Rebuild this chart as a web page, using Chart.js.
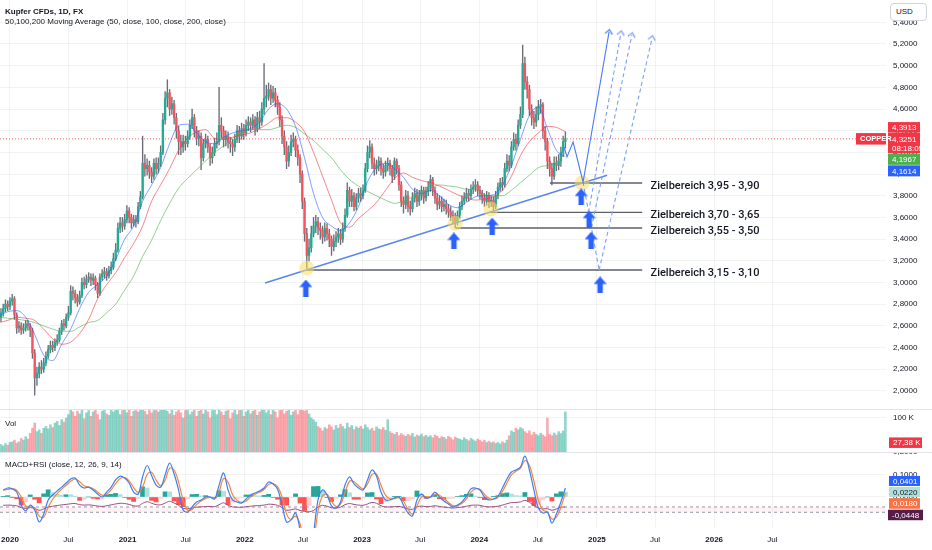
<!DOCTYPE html>
<html><head><meta charset="utf-8">
<script src="https://cdn.jsdelivr.net/npm/chart.js@4.4.1/dist/chart.umd.min.js"></script>
<style>
html,body{margin:0;padding:0;background:#fff;width:932px;height:550px;overflow:hidden;font-family:'Liberation Sans',Arial,sans-serif;}
#wrap{position:relative;width:932px;height:550px;}
canvas{position:absolute;left:0;}
.t{position:absolute;color:#131722;font-size:8px;white-space:nowrap;line-height:10px;}
.sep{position:absolute;left:0;width:932px;height:1px;background:#e0e3eb;}
#usd{position:absolute;left:890px;top:3px;width:37px;height:18px;border:1px solid #d1d4dc;border-radius:4px;background:#fff;font-size:8px;line-height:16px;color:#131722;padding-left:5px;box-sizing:border-box;}
</style></head><body>
<div id="wrap">
<canvas id="cPrice" width="932" height="410" style="top:0"></canvas>
<canvas id="cVol" width="932" height="42" style="top:410px"></canvas>
<canvas id="cMacd" width="932" height="98" style="top:452px"></canvas>
<div class="sep" style="top:409px"></div>
<div class="sep" style="top:452px"></div>
<div class="t" style="left:5px;top:7px;font-weight:bold">Kupfer CFDs, 1D, FX</div>
<div class="t" style="left:5px;top:16.5px">50,100,200 Moving Average (50, close, 100, close, 200, close)</div>
<div class="t" style="left:5px;top:418.5px">Vol</div>
<div class="t" style="left:5px;top:459.5px">MACD+RSI (close, 12, 26, 9, 14)</div>
<div id="usd">USD</div>
</div>
<script>
// ---------- DATA ----------
// days counted from 2020-01-01
const timeTickDays   = [0,182,366,547,731,912,1096,1277,1461,1643,1827,2008,2192,2373];
const timeTickLabels = ['2020','Jul','2021','Jul','2022','Jul','2023','Jul','2024','Jul','2025','Jul','2026','Jul'];
const priceTicks = [2.0,2.2,2.4,2.6,2.8,3.0,3.2,3.4,3.6,3.8,4.0,4.2,4.4,4.6,4.8,5.0,5.2,5.4];
const volTicks = [100];
const macdTicks = [0.2,0.1,0];

// weekly candles, first week starts 2019-12-04
const firstCandleDay = -28;
const firstOpen = 2.68;
const closes = [
2.72,2.76,2.80,2.78,2.83,2.85,2.70,2.58,2.60,2.56,
2.58,2.62,2.60,2.56,2.35,2.12,2.16,2.22,2.20,2.26,
2.32,2.38,2.42,2.40,2.45,2.47,2.55,2.62,2.60,2.68,
2.72,2.92,2.90,2.86,2.82,2.88,3.00,2.98,3.03,3.05,
3.02,3.04,2.98,2.90,3.05,3.08,3.10,3.06,3.11,3.14,
3.22,3.30,3.50,3.55,3.52,3.58,3.66,3.60,3.55,3.58,
3.56,3.70,3.79,4.10,4.05,4.08,4.02,3.98,4.10,4.05,
4.10,4.20,4.50,4.70,4.75,4.60,4.65,4.52,4.40,4.30,
4.25,4.30,4.28,4.35,4.45,4.52,4.40,4.33,4.35,4.15,
4.28,4.32,4.25,4.15,4.20,4.28,4.30,4.45,4.40,4.32,
4.35,4.30,4.28,4.25,4.32,4.40,4.35,4.42,4.38,4.45,
4.48,4.45,4.50,4.42,4.52,4.48,4.60,4.70,4.72,4.78,
4.70,4.75,4.68,4.62,4.50,4.35,4.25,4.12,4.20,4.30,
4.32,4.22,4.15,4.00,3.75,3.45,3.25,3.32,3.45,3.52,
3.56,3.50,3.48,3.42,3.50,3.45,3.40,3.33,3.38,3.42,
3.45,3.40,3.50,3.62,3.85,3.75,3.80,3.70,3.78,3.82,
3.80,3.85,4.05,4.20,4.25,4.10,4.05,4.08,4.12,4.05,
4.02,4.08,4.10,4.05,3.98,4.12,4.05,3.90,3.75,3.72,
3.80,3.70,3.68,3.78,3.82,3.75,3.80,3.85,3.78,3.84,
3.88,3.95,3.85,3.78,3.72,3.75,3.70,3.72,3.68,3.65,
3.62,3.60,3.56,3.62,3.70,3.75,3.78,3.82,3.80,3.86,
3.88,3.90,3.85,3.82,3.78,3.75,3.80,3.74,3.76,3.70,
3.80,3.88,3.92,3.90,4.05,4.12,4.08,4.25,4.32,4.28,
4.45,4.55,5.02,4.85,4.78,4.60,4.52,4.48,4.55,4.62,
4.64,4.40,4.30,4.12,4.05,3.98,4.10,4.08,4.12,4.20,
4.30,4.3251];
const highs = [
2.76,2.80,2.84,2.83,2.86,2.89,2.87,2.72,2.64,2.63,
2.62,2.65,2.65,2.62,2.58,2.38,2.22,2.26,2.28,2.30,
2.36,2.42,2.46,2.46,2.48,2.52,2.58,2.65,2.66,2.71,
2.78,2.97,2.96,2.93,2.89,2.92,3.04,3.05,3.07,3.09,
3.08,3.08,3.06,3.00,3.08,3.12,3.14,3.13,3.15,3.19,
3.27,3.36,3.55,3.60,3.60,3.63,3.71,3.69,3.63,3.62,
3.62,3.74,3.84,4.35,4.18,4.14,4.12,4.06,4.14,4.15,
4.15,4.26,4.56,4.76,4.87,4.78,4.71,4.68,4.56,4.44,
4.36,4.36,4.35,4.40,4.50,4.60,4.55,4.44,4.40,4.38,
4.32,4.37,4.35,4.28,4.25,4.33,4.38,4.80,4.52,4.44,
4.40,4.39,4.34,4.32,4.37,4.45,4.44,4.47,4.46,4.50,
4.53,4.52,4.55,4.53,4.57,4.58,4.66,5.02,4.82,4.84,
4.82,4.81,4.79,4.72,4.66,4.54,4.40,4.30,4.26,4.36,
4.38,4.35,4.27,4.18,4.03,3.78,3.50,3.40,3.52,3.60,
3.62,3.60,3.55,3.52,3.55,3.54,3.49,3.43,3.44,3.47,
3.50,3.49,3.55,3.68,3.92,3.88,3.86,3.83,3.82,3.87,
3.87,3.90,4.10,4.26,4.31,4.28,4.15,4.13,4.16,4.15,
4.09,4.12,4.15,4.13,4.08,4.15,4.14,4.08,3.93,3.79,
3.85,3.84,3.75,3.83,3.87,3.86,3.85,3.89,3.88,3.88,
3.93,3.99,3.97,3.88,3.82,3.80,3.79,3.77,3.76,3.72,
3.70,3.66,3.64,3.66,3.74,3.80,3.83,3.87,3.86,3.90,
3.93,3.95,3.93,3.89,3.85,3.82,3.84,3.83,3.80,3.79,
3.84,3.92,3.96,3.97,4.10,4.18,4.17,4.30,4.38,4.37,
4.50,4.62,5.19,5.08,4.90,4.82,4.64,4.58,4.62,4.68,
4.69,4.66,4.44,4.33,4.16,4.10,4.16,4.16,4.18,4.25,
4.35,4.39];
const lows = [
2.64,2.69,2.73,2.74,2.75,2.79,2.66,2.53,2.54,2.52,
2.53,2.55,2.56,2.50,2.30,1.96,2.05,2.12,2.16,2.17,
2.23,2.30,2.35,2.36,2.37,2.42,2.45,2.52,2.56,2.58,
2.65,2.70,2.84,2.81,2.78,2.80,2.86,2.94,2.95,3.00,
2.97,2.98,2.93,2.86,2.88,3.02,3.04,3.02,3.04,3.08,
3.12,3.20,3.28,3.46,3.47,3.49,3.55,3.55,3.50,3.52,
3.51,3.54,3.68,3.77,3.98,3.99,3.96,3.92,3.95,4.00,
4.01,4.07,4.18,4.46,4.62,4.54,4.55,4.46,4.33,4.18,
4.18,4.20,4.22,4.25,4.32,4.42,4.34,4.27,4.26,4.04,
4.12,4.24,4.20,4.08,4.10,4.17,4.24,4.27,4.33,4.25,
4.26,4.24,4.20,4.17,4.21,4.29,4.29,4.32,4.32,4.35,
4.40,4.39,4.41,4.36,4.39,4.42,4.45,4.55,4.62,4.68,
4.64,4.66,4.62,4.55,4.44,4.28,4.18,4.05,4.07,4.17,
4.25,4.16,4.08,3.92,3.68,3.38,3.13,3.20,3.28,3.42,
3.46,3.44,3.40,3.36,3.38,3.39,3.33,3.25,3.29,3.33,
3.37,3.35,3.37,3.47,3.60,3.70,3.70,3.66,3.67,3.74,
3.75,3.77,3.83,4.02,4.15,4.05,3.99,4.00,4.03,3.99,
3.96,3.98,4.03,3.99,3.92,3.95,4.00,3.85,3.70,3.64,
3.68,3.65,3.62,3.65,3.74,3.70,3.71,3.76,3.73,3.75,
3.80,3.84,3.80,3.73,3.67,3.68,3.65,3.66,3.63,3.60,
3.57,3.54,3.50,3.53,3.59,3.67,3.72,3.75,3.75,3.77,
3.82,3.84,3.80,3.77,3.73,3.70,3.71,3.69,3.70,3.66,
3.68,3.77,3.84,3.85,3.88,4.02,4.03,4.06,4.22,4.22,
4.26,4.42,4.52,4.78,4.70,4.54,4.45,4.42,4.44,4.50,
4.56,4.33,4.22,4.05,3.98,3.90,3.95,4.03,4.04,4.07,
4.16,4.24];
// volume in thousands
const volumes = [
22,18,25,20,28,30,35,26,30,40,
35,45,38,55,70,85,60,65,55,70,
75,68,80,72,85,90,78,95,88,100,
110,125,118,105,120,112,125,98,115,122,
105,118,125,110,95,120,125,112,108,125,
118,125,125,110,122,125,115,125,105,120,
125,118,125,125,120,110,125,115,122,125,
118,125,125,125,120,112,125,108,118,125,
115,100,122,125,110,118,125,105,120,125,
112,125,118,100,122,125,110,125,118,108,
120,125,98,115,125,110,122,125,105,118,
125,112,120,125,108,118,125,125,115,122,
110,125,118,100,122,125,112,120,125,108,
118,125,110,125,125,120,125,112,100,95,
88,75,70,62,72,68,80,74,65,78,
70,82,75,68,85,72,78,66,74,70,
76,68,80,72,65,70,62,74,68,66,
72,64,95,60,55,52,58,48,54,50,
46,52,48,55,44,50,47,53,45,49,
44,48,42,50,46,40,45,43,38,46,
42,36,44,40,38,35,42,37,33,40,
36,32,38,34,30,35,28,32,27,30,
25,28,24,30,26,35,48,62,58,70,
65,72,68,60,55,62,50,58,52,48,
55,50,45,100,52,48,56,50,60,54,
62,118];
const lastVolLabel = 27.38;

// moving averages, sampled every 4 weeks starting 2019-11-27
const maFirstDay = -35;
const ma50 = [
2.69,2.73,2.74,2.68,2.52,2.33,2.28,2.43,2.57,2.76,
2.91,2.98,3.06,3.21,3.40,3.52,3.75,3.90,4.06,4.28,
4.45,4.46,4.38,4.30,4.28,4.34,4.38,4.40,4.42,4.48,
4.60,4.65,4.60,4.44,4.15,3.82,3.60,3.52,3.48,3.55,
3.70,3.93,4.06,4.10,4.05,3.97,3.86,3.82,3.85,3.80,
3.72,3.69,3.74,3.79,3.80,3.81,3.90,4.08,4.32,4.54,
4.62,4.42,4.22,4.1614];
const ma100 = [
2.63,2.65,2.68,2.67,2.65,2.57,2.48,2.43,2.45,2.53,
2.66,2.85,2.98,3.09,3.23,3.36,3.52,3.75,3.90,4.05,
4.22,4.33,4.39,4.41,4.33,4.32,4.34,4.36,4.38,4.42,
4.47,4.52,4.52,4.48,4.39,4.20,3.98,3.76,3.55,3.51,
3.59,3.66,3.74,3.85,3.96,4.01,3.97,3.94,3.92,3.89,
3.85,3.81,3.78,3.76,3.77,3.79,3.85,3.98,4.17,4.30,
4.38,4.44,4.43,4.3913];
const ma200 = [
2.68,2.67,2.66,2.65,2.63,2.60,2.57,2.55,2.55,2.59,
2.63,2.65,2.72,2.80,2.93,3.06,3.24,3.39,3.57,3.73,
3.87,3.96,4.04,4.12,4.20,4.26,4.33,4.38,4.41,4.41,
4.41,4.43,4.45,4.43,4.37,4.31,4.23,4.15,4.04,3.95,
3.89,3.84,3.80,3.76,3.73,3.75,3.79,3.83,3.87,3.90,
3.89,3.88,3.86,3.86,3.81,3.80,3.80,3.85,3.92,3.99,
4.06,4.08,4.11,4.1967];

// MACD + RSI, sampled every 2 weeks starting 2019-12-11
const macdFirstDay = -21;
const macd = [
0.031,0.040,0.036,0.022,-0.036,-0.062,-0.036,-0.058,-0.111,-0.076,
-0.013,0.009,0.027,0.044,0.062,0.080,0.084,0.053,0.040,0.044,
0.031,0.013,0.000,0.022,0.044,0.076,0.093,0.084,0.062,0.022,
0.013,0.090,0.140,0.095,0.053,0.044,0.098,0.151,0.102,0.031,
-0.058,-0.067,-0.044,-0.022,-0.013,0.000,0.000,-0.009,0.053,0.107,
0.031,-0.013,-0.022,-0.027,-0.009,0.009,0.018,0.027,0.040,0.067,
0.058,0.036,-0.036,-0.111,-0.102,-0.071,-0.147,-0.280,-0.347,-0.169,
-0.013,0.031,0.009,-0.040,-0.049,-0.022,0.053,0.089,0.058,0.040,
0.031,0.076,0.120,0.093,0.022,-0.013,-0.013,-0.004,0.000,-0.036,
-0.071,-0.084,-0.013,0.013,-0.004,0.000,0.022,0.000,-0.018,-0.031,
-0.044,-0.036,-0.022,0.004,0.036,0.040,0.031,0.000,-0.013,-0.009,
0.004,0.040,0.080,0.111,0.120,0.133,0.182,0.120,0.031,-0.049,
-0.071,-0.067,-0.116,-0.076,-0.022,0.0401];
const signal = [
0.030,0.034,0.037,0.030,0.000,-0.040,-0.045,-0.048,-0.085,-0.090,
-0.045,-0.010,0.015,0.035,0.052,0.070,0.080,0.068,0.050,0.044,
0.037,0.022,0.008,0.012,0.032,0.060,0.082,0.086,0.072,0.042,
0.020,0.045,0.100,0.110,0.075,0.050,0.075,0.128,0.120,0.065,
-0.015,-0.058,-0.055,-0.034,-0.018,-0.006,-0.002,-0.005,0.025,0.082,
0.065,0.010,-0.015,-0.024,-0.018,0.000,0.012,0.022,0.033,0.055,
0.060,0.046,0.000,-0.075,-0.100,-0.085,-0.120,-0.220,-0.310,-0.215,
-0.060,0.005,0.012,-0.020,-0.042,-0.032,0.020,0.070,0.068,0.050,
0.036,0.058,0.100,0.102,0.052,0.008,-0.008,-0.007,-0.003,-0.020,
-0.055,-0.076,-0.040,0.000,0.002,0.000,0.012,0.008,-0.008,-0.024,
-0.038,-0.038,-0.028,-0.008,0.022,0.036,0.034,0.012,-0.006,-0.010,
-0.002,0.025,0.062,0.098,0.114,0.128,0.162,0.140,0.070,-0.015,
-0.058,-0.067,-0.098,-0.090,-0.045,0.0180];
const rsiScaled = [
-0.037,-0.036,-0.037,-0.039,-0.047,-0.051,-0.047,-0.051,-0.059,-0.053,
-0.044,-0.041,-0.038,-0.035,-0.033,-0.030,-0.029,-0.034,-0.036,-0.035,
-0.037,-0.040,-0.042,-0.039,-0.035,-0.031,-0.028,-0.029,-0.033,-0.039,
-0.040,-0.028,-0.021,-0.028,-0.034,-0.035,-0.027,-0.019,-0.027,-0.037,
-0.051,-0.052,-0.049,-0.045,-0.044,-0.042,-0.042,-0.043,-0.034,-0.026,
-0.037,-0.044,-0.045,-0.046,-0.043,-0.041,-0.039,-0.038,-0.036,-0.032,
-0.033,-0.037,-0.047,-0.059,-0.057,-0.053,-0.060,-0.064,-0.066,-0.060,
-0.044,-0.037,-0.041,-0.048,-0.049,-0.045,-0.034,-0.029,-0.033,-0.036,
-0.037,-0.031,-0.024,-0.028,-0.039,-0.044,-0.044,-0.043,-0.042,-0.047,
-0.053,-0.055,-0.044,-0.040,-0.043,-0.042,-0.039,-0.042,-0.045,-0.047,
-0.049,-0.047,-0.045,-0.041,-0.037,-0.036,-0.037,-0.042,-0.044,-0.043,
-0.041,-0.036,-0.030,-0.025,-0.024,-0.022,-0.015,-0.024,-0.037,-0.049,
-0.053,-0.052,-0.059,-0.053,-0.045,-0.0448];
const rsiBand = [-0.0444, -0.068];
const lastHistLabel = 0.0220;

// drawings (day, price)
const lastPrice = 4.3251;
const countdown = '08:18:05';
const trendLine = [{x:794,y:2.995},{x:1859,y:3.99}];
const zonePrices = [3.918, 3.647, 3.503, 3.115];
const zoneStartDays = [1681, 1494, 1388, 925];
const zoneEndDay = 1968;
const zoneTextDay = 1994;
const zoneTexts = ['Zielbereich 3,95 - 3,90','Zielbereich 3,70 - 3,65','Zielbereich 3,55 - 3,50','Zielbereich 3,15 - 3,10'];
const circleDays = [924, 1386, 1497, 1781];
const circlePrices = [3.134, 3.546, 3.678, 3.918];
const arrowDays = [921, 1382, 1501, 1778, 1803, 1809, 1837];
const arrowPrices = [2.949, 3.383, 3.52, 3.789, 3.585, 3.39, 2.977];
const pathSolid = [{x:1725,y:4.25},{x:1734,y:4.158},{x:1753,y:4.296},{x:1784,y:3.927},{x:1865,y:5.311}];
const pathDashed = [
  [{x:1784,y:3.927},{x:1834,y:3.115}],
  [{x:1801,y:3.647},{x:1902,y:5.30}],
  [{x:1810,y:3.503},{x:1936,y:5.283}],
  [{x:1834,y:3.115},{x:1999,y:5.255}]
];

// ---------- LAYOUT / STYLE ----------
const FONT = "'Liberation Sans', Arial, sans-serif";
const xMin = -31, xMax = 2727;
const priceMin = 1.8236, priceMax = 5.6059;
const volMin = 0, volMax = 123.5;
const macdMin = -0.1378, macdMax = 0.2;
const AXIS_W = 46;
const gridColor = 'rgba(42,46,57,0.06)';
const upColor = '#22ab94', downColor = '#f7525f';
const wickColor = 'rgba(80,83,94,0.85)';
const fmt4 = v => v.toFixed(4).replace('.', ',');

Chart.defaults.font.family = FONT;
Chart.defaults.font.size = 8;
Chart.defaults.color = '#131722';

function zeroPad(s) { s.paddingTop = 0; s.paddingBottom = 0; s.paddingLeft = 0; s.paddingRight = 0; }
function xAxis(showLabels, h) {
  return {
    type: 'linear', min: xMin, max: xMax, offset: false,
    grid: { color: gridColor, drawTicks: false, offset: false },
    border: { display: false },
    ticks: {
      display: showLabels, autoSkip: false, maxRotation: 0, padding: 7, color: '#131722',
      callback: (v, i) => timeTickLabels[i],
      font: c => ({ family: FONT, size: 8, weight: /^\d{4}$/.test(timeTickLabels[c.index] || '') ? 'bold' : 'normal' })
    },
    afterBuildTicks: s => { s.ticks = timeTickDays.map(v => ({ value: v })); },
    afterFit: s => { s.height = h; zeroPad(s); }
  };
}
function yAxis(min, max, ticks, fmt) {
  return {
    type: 'linear', position: 'right', min, max,
    grid: { color: gridColor, drawTicks: false },
    border: { display: false },
    ticks: { padding: 7, color: '#131722', autoSkip: false, font: { size: 8, family: FONT }, callback: v => fmt(v) },
    afterBuildTicks: s => { s.ticks = ticks.map(v => ({ value: v })); },
    afterFit: s => { s.width = AXIS_W; zeroPad(s); }
  };
}
const baseOpts = (x, y) => ({
  responsive: false, animation: false, events: [],
  layout: { padding: 0, autoPadding: false },
  plugins: { legend: { display: false }, tooltip: { enabled: false } },
  scales: { x, y }
});

function tag(ctx, x, yc, w, h, bg, text, fg, font) {
  ctx.fillStyle = bg;
  ctx.fillRect(x, yc - h / 2, w, h);
  ctx.fillStyle = fg || '#fff';
  ctx.font = font || ('8px ' + FONT);
  ctx.textBaseline = 'middle';
  ctx.textAlign = 'left';
  ctx.fillText(text, x + 4, yc + 0.5);
}

// point images
function makeArrow(color) {
  const c = document.createElement('canvas'); c.width = 13; c.height = 17;
  const g = c.getContext('2d'); g.fillStyle = color;
  g.beginPath(); g.moveTo(6.5, 0); g.lineTo(13, 7.5); g.lineTo(9.2, 7.5); g.lineTo(9.2, 17);
  g.lineTo(3.8, 17); g.lineTo(3.8, 7.5); g.lineTo(0, 7.5); g.closePath(); g.fill();
  return c;
}
function makeChevron(color) {
  const c = document.createElement('canvas'); c.width = 9; c.height = 7;
  const g = c.getContext('2d'); g.strokeStyle = color; g.lineWidth = 1.2;
  g.beginPath(); g.moveTo(0.8, 5.5); g.lineTo(4.5, 1.2); g.lineTo(8.2, 5.5); g.stroke();
  return c;
}
const arrowImg = makeArrow('#2962ff');
const chevSolid = makeChevron('#4b7bf5');
const chevDash = makeChevron('#7aa0f5');

// ---------- PRICE CHART ----------
const candleDays = closes.map((_, k) => firstCandleDay + 7 * k);
const opens = closes.map((c, k) => k === 0 ? firstOpen : closes[k - 1]);
const up = closes.map((c, k) => c >= opens[k]);
const maDays = ma50.map((_, j) => maFirstDay + 28 * j);
const toPts = (days, vals) => days.map((d, i) => ({ x: d, y: vals[i] }));

function lineDS(data, color, width, dash, extra) {
  return Object.assign({ type: 'line', data, borderColor: color, borderWidth: width, borderDash: dash || [],
    pointRadius: 0, fill: false, tension: 0 }, extra || {});
}
function rotFor(segs) {
  return c => {
    const s = c.chart.scales, L = segs[c.dataIndex];
    if (!L) return 0;
    const dx = s.x.getPixelForValue(L[L.length - 1].x) - s.x.getPixelForValue(L[L.length - 2].x);
    const dy = s.y.getPixelForValue(L[L.length - 1].y) - s.y.getPixelForValue(L[L.length - 2].y);
    return Math.atan2(dx, -dy) * 180 / Math.PI;
  };
}
const dashedUp = pathDashed.slice(1);

const priceDatasets = [
  { type: 'line', showLine: false, data: toPts(arrowDays, arrowPrices), pointStyle: arrowImg, pointRadius: 8 },
  { type: 'line', showLine: false, data: [pathSolid[pathSolid.length - 1]], pointStyle: chevSolid, pointRadius: 5, pointRotation: rotFor([pathSolid]) },
  { type: 'line', showLine: false, data: dashedUp.map(L => L[1]), pointStyle: chevDash, pointRadius: 5, pointRotation: rotFor(dashedUp) },
  lineDS(pathSolid, '#4b7bf5', 1.1),
  ...pathDashed.map(L => lineDS(L, '#7aa0f5', 1.1, [4, 3])),
  { type: 'line', showLine: false, data: toPts(circleDays, circlePrices), pointRadius: 7.5, pointBorderWidth: 0,
    pointBackgroundColor: 'rgba(250,220,100,0.55)', pointBorderColor: 'rgba(0,0,0,0)' },
  lineDS(trendLine, '#5a86f0', 1.5),
  ...zonePrices.map((p, i) => lineDS([{ x: zoneStartDays[i], y: p }, { x: zoneEndDay, y: p }], '#5d606b', 1.4)),
  lineDS(toPts(maDays, ma50), 'rgba(41,98,255,0.6)', 1, null, { cubicInterpolationMode: 'monotone' }),
  lineDS(toPts(maDays, ma100), 'rgba(242,54,69,0.6)', 1, null, { cubicInterpolationMode: 'monotone' }),
  lineDS(toPts(maDays, ma200), 'rgba(76,175,80,0.6)', 1, null, { cubicInterpolationMode: 'monotone' }),
  { type: 'bar', grouped: false, barThickness: 1.7, borderWidth: 0,
    data: candleDays.map((d, k) => ({ x: d, y: [opens[k], closes[k]] })),
    backgroundColor: up.map(u => u ? upColor : downColor) },
  { type: 'bar', grouped: false, barThickness: 0.7, borderWidth: 0,
    data: candleDays.map((d, k) => ({ x: d, y: [lows[k], highs[k]] })),
    backgroundColor: wickColor },
  lineDS([{ x: xMin, y: lastPrice }, { x: xMax, y: lastPrice }], 'rgba(242,54,69,0.75)', 1, [1, 2])
];

const priceOverlay = {
  id: 'priceOverlay',
  afterDatasetsDraw(chart) {
    const { ctx, scales: { x, y } } = chart;
    ctx.save();
    ctx.font = '500 11px Roboto, ' + FONT;
    ctx.fillStyle = '#131722';
    ctx.textBaseline = 'middle';
    ctx.textAlign = 'left';
    zoneTexts.forEach((t, i) => ctx.fillText(t, x.getPixelForValue(zoneTextDay), y.getPixelForValue(zonePrices[i]) + 3));
    ctx.restore();
  },
  afterDraw(chart) {
    const { ctx, scales: { y } } = chart;
    const pc = y.getPixelForValue(lastPrice);
    const x0 = chart.chartArea.right + 2;
    ctx.save();
    tag(ctx, x0, pc - 11.5, 32, 10.5, '#f23645', fmt4(ma100[ma100.length - 1]));
    ctx.fillStyle = '#f23645';
    ctx.fillRect(x0, pc - 6, 32, 20.5);
    ctx.fillStyle = '#fff'; ctx.font = '8px ' + FONT; ctx.textBaseline = 'middle';
    ctx.fillText(fmt4(lastPrice), x0 + 4, pc + 0.5);
    ctx.fillText(countdown, x0 + 4, pc + 9.5);
    tag(ctx, x0, pc + 20.5, 32, 11, '#4caf50', fmt4(ma200[ma200.length - 1]));
    tag(ctx, x0, pc + 32, 32, 11, '#2962ff', fmt4(ma50[ma50.length - 1]));
    tag(ctx, chart.chartArea.right - 30, pc, 30, 11.5, '#f23645', 'COPPER', '#fff', 'bold 7.5px ' + FONT);
    ctx.restore();
  }
};

new Chart(document.getElementById('cPrice'), {
  type: 'bar',
  data: { datasets: priceDatasets },
  options: baseOpts(xAxis(false, 0), yAxis(priceMin, priceMax, priceTicks, fmt4)),
  plugins: [priceOverlay]
});

// ---------- VOLUME CHART ----------
const volOverlay = {
  id: 'volOverlay',
  afterDraw(chart) {
    const { ctx, scales: { y } } = chart;
    ctx.save();
    tag(ctx, chart.chartArea.right + 3, y.getPixelForValue(lastVolLabel), 33, 10.5, '#f23645', lastVolLabel.toFixed(2).replace('.', ',') + ' K');
    ctx.restore();
  }
};
new Chart(document.getElementById('cVol'), {
  type: 'bar',
  data: { datasets: [{
    type: 'bar', grouped: false, barThickness: 1.9, borderWidth: 0,
    data: candleDays.map((d, k) => ({ x: d, y: volumes[k] })),
    backgroundColor: up.map(u => u ? 'rgba(34,171,148,0.5)' : 'rgba(247,82,95,0.5)')
  }] },
  options: baseOpts(xAxis(false, 0), yAxis(volMin, volMax, volTicks, v => v + ' K')),
  plugins: [volOverlay]
});

// ---------- MACD CHART ----------
const macdDays = macd.map((_, j) => macdFirstDay + 14 * j);
const hist = macd.map((m, j) => m - signal[j]);
const histColors = hist.map((h, j) => {
  const p = j > 0 ? hist[j - 1] : h;
  if (h >= 0) return h >= p ? '#26a69a' : '#b2dfdb';
  return h <= p ? '#ff5252' : '#ffcdd2';
});
const macdOverlay = {
  id: 'macdOverlay',
  afterDraw(chart) {
    const { ctx, scales: { y } } = chart;
    const x0 = chart.chartArea.right + 3;
    const y0 = y.getPixelForValue(macd[macd.length - 1]);
    ctx.save();
    tag(ctx, x0, y0 - 7, 31, 10, '#2962ff', fmt4(macd[macd.length - 1]));
    tag(ctx, x0, y0 + 4, 31, 10, '#b2dfdb', fmt4(lastHistLabel), '#131722');
    tag(ctx, x0, y0 + 15.5, 31, 10.5, '#ff7043', fmt4(signal[signal.length - 1]));
    tag(ctx, x0 - 1, y0 + 27, 35, 10.5, '#561d4a', fmt4(rsiScaled[rsiScaled.length - 1]));
    ctx.restore();
  }
};
new Chart(document.getElementById('cMacd'), {
  type: 'bar',
  data: { datasets: [
    lineDS(toPts(macdDays, macd), '#3d7ef5', 1.2, null, { tension: 0.35 }),
    lineDS(toPts(macdDays, signal), '#f7873a', 1.2, null, { tension: 0.35 }),
    lineDS(toPts(macdDays, rsiScaled), '#9b4d7c', 1, null, { tension: 0.3 }),
    lineDS([{ x: xMin, y: rsiBand[0] }, { x: xMax, y: rsiBand[0] }], '#9598a1', 1, [3, 3]),
    lineDS([{ x: xMin, y: rsiBand[1] }, { x: xMax, y: rsiBand[1] }], '#9598a1', 1, [3, 3], { fill: '-1', backgroundColor: 'rgba(233,30,99,0.06)' }),
    { type: 'bar', grouped: false, barThickness: 4.2, borderWidth: 0,
      data: macdDays.map((d, j) => ({ x: d, y: hist[j] })), backgroundColor: histColors }
  ] },
  options: baseOpts(xAxis(true, 22), yAxis(macdMin, macdMax, macdTicks, fmt4)),
  plugins: [macdOverlay]
});
</script>
</body></html>
